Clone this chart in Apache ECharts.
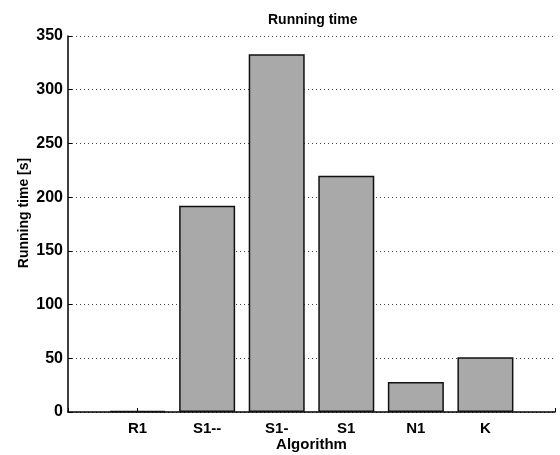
<!DOCTYPE html>
<html>
<head>
<meta charset="utf-8">
<script src="https://cdn.jsdelivr.net/npm/echarts@6/dist/echarts.min.js"></script>
<style>
  html, body { margin: 0; padding: 0; background: #fff; }
  #chart { width: 560px; height: 455px; }
</style>
</head>
<body>
<div id="chart"></div>
<script>
// Algorithms on the x axis (placed at positions 1..6, axis runs 0..7)
const algorithms = ['R1', 'S1--', 'S1-', 'S1', 'N1', 'K'];
// Running time per algorithm, seconds
const runningTime = [1, 192, 333, 220, 28, 51];
// Y axis ticks
const yTicks = [0, 50, 100, 150, 200, 250, 300, 350];

const FONT = 'Liberation Sans';
const chart = echarts.init(document.getElementById('chart'), null, { renderer: 'canvas' });

chart.setOption({
  animation: false,
  backgroundColor: '#fff',
  title: {
    text: 'Running time',
    left: 263,
    top: 8,
    textStyle: { fontFamily: FONT, fontSize: 14, fontWeight: 'bold', color: '#000' }
  },
  grid: { left: 68, right: 5, top: 36, bottom: 43, containLabel: false, outerBoundsMode: 'none' },
  xAxis: {
    type: 'value',
    min: 0,
    max: algorithms.length + 1,
    interval: 1,
    name: 'Algorithm',
    nameLocation: 'middle',
    nameGap: 25,
    nameMoveOverlap: false,
    nameTextStyle: { fontFamily: FONT, fontSize: 15, fontWeight: 'bold', color: '#000' },
    axisLine: { lineStyle: { color: '#000', width: 1.5 } },
    axisTick: { inside: true, length: 4, lineStyle: { color: '#000' } },
    axisLabel: {
      fontFamily: FONT, fontSize: 15, fontWeight: 'bold', color: '#000', margin: 9,
      formatter: v => (v >= 1 && v <= algorithms.length) ? algorithms[v - 1] : ''
    },
    splitLine: { show: false }
  },
  yAxis: {
    type: 'value',
    min: yTicks[0],
    max: yTicks[yTicks.length - 1],
    interval: 50,
    name: 'Running time [s]',
    nameLocation: 'middle',
    nameGap: 37,
    nameMoveOverlap: false,
    nameTextStyle: {
      fontFamily: FONT, fontSize: 14, fontWeight: 'bold', color: '#000',
      padding: [0, 0, 0, 22]
    },
    axisLine: { show: true, lineStyle: { color: '#000', width: 1.5 } },
    axisTick: { show: true, inside: true, length: 4, lineStyle: { color: '#000' } },
    axisLabel: { fontFamily: FONT, fontSize: 16, fontWeight: 'bold', color: '#000', margin: 5 },
    splitLine: { show: true, lineStyle: { color: '#444', type: [1, 3], width: 1 } }
  },
  series: [{
    type: 'bar',
    data: runningTime.map((v, i) => [i + 1, v]),
    barWidth: 56,
    itemStyle: { color: '#a9a9a9', borderColor: '#111', borderWidth: 1.5 }
  }]
});
</script>
</body>
</html>
